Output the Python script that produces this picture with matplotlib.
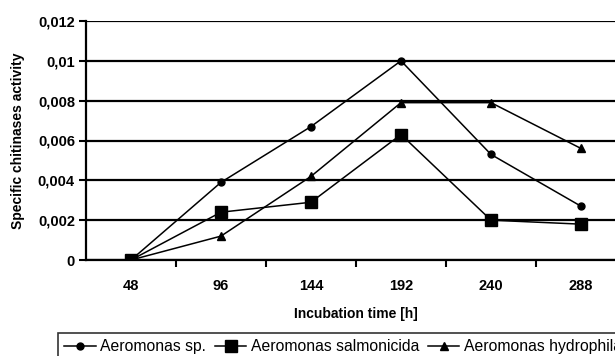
import matplotlib.pyplot as plt
import numpy as np

plt.rcParams['font.family'] = ['Liberation Sans', 'DejaVu Sans']

hours = ['48', '96', '144', '192', '240', '288']
sp = [0.0, 0.0039, 0.0067, 0.0100, 0.0053, 0.0027]
salmonicida = [0.0, 0.0024, 0.0029, 0.0063, 0.0020, 0.0018]
hydrophila = [0.0, 0.0012, 0.0042, 0.0079, 0.0079, 0.0056]
labels = ['Aeromonas sp.', 'Aeromonas salmonicida', 'Aeromonas hydrophila']
yticks = [0, 0.002, 0.004, 0.006, 0.008, 0.01, 0.012]
ytick_labels = ['0', '0,002', '0,004', '0,006', '0,008', '0,01', '0,012']

fig = plt.figure(figsize=(6.15, 3.56), dpi=100)
ax = fig.add_axes([86/615, 96/356, 540/615, 239/356])

x = np.arange(len(hours))
ax.plot(x, sp, color='black', lw=1.1, marker='o', ms=5, label=labels[0])
ax.plot(x, salmonicida, color='black', lw=1.1, marker='s', ms=8, label=labels[1])
ax.plot(x, hydrophila, color='black', lw=1.1, marker='^', ms=5.5, label=labels[2])

ax.set_xlim(-0.5, 5.5)
ax.set_ylim(0, 0.012)
ax.set_yticks(yticks)
ax.set_yticklabels(ytick_labels, fontsize=10.5, fontweight='bold')
ax.set_xticks(x)
ax.set_xticklabels(hours, fontsize=10.5, fontweight='bold')
ax.set_xticks(np.arange(0.5, 5.5, 1), minor=True)
ax.tick_params(axis='x', which='major', length=0, pad=14)
ax.tick_params(axis='x', which='minor', length=5, width=1.5, direction='out')
ax.tick_params(axis='y', length=5, width=1.5, direction='out', pad=3)
ax.yaxis.grid(True, color='black', lw=1.6)
ax.set_axisbelow(True)
for s in ['top', 'right']:
    ax.spines[s].set_visible(False)
ax.spines['left'].set_linewidth(1.6)
ax.spines['bottom'].set_linewidth(1.6)

ax.set_ylabel('Specific chitinases activity', fontsize=10, fontweight='bold', labelpad=9)
ax.set_xlabel('Incubation time [h]', fontsize=10, fontweight='bold', labelpad=10)

leg = fig.legend(loc='upper left', bbox_to_anchor=(58/615, 1 - 333/356), ncol=3,
                 frameon=True, fancybox=False, fontsize=11.3, handlelength=2.0,
                 handletextpad=0.3, columnspacing=0.55, borderpad=0.4, borderaxespad=0)
leg.get_frame().set_edgecolor('black')
leg.get_frame().set_linewidth(1.2)

fig.savefig('out.png', dpi=100)
